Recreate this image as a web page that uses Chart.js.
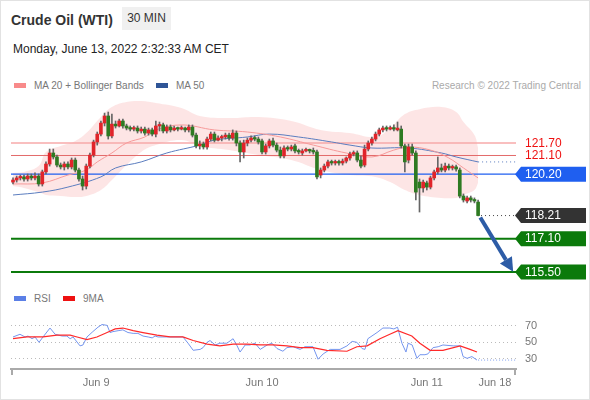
<!DOCTYPE html>
<html>
<head>
<meta charset="utf-8">
<script src="https://cdn.jsdelivr.net/npm/chart.js@4/dist/chart.umd.min.js"></script>
<style>
  html, body { margin: 0; padding: 0; }
  body { width: 590px; height: 400px; position: relative; overflow: hidden; background: #fff;
         font-family: "Liberation Sans", Arial, sans-serif; }
  #frame { position: absolute; left: 0; top: 0; width: 588px; height: 398px; border: 1px solid #e2e2e2; }
  .title { position: absolute; left: 11px; top: 13px; font-size: 14px; line-height: 14px; font-weight: bold; color: #333; }
  .tf { position: absolute; left: 122px; top: 7px; width: 49px; height: 23px; background: #f0f0f0;
        font-size: 12px; line-height: 23px; text-align: center; color: #333; }
  .date { position: absolute; left: 13px; top: 43px; font-size: 12px; line-height: 12px; color: #222; }
  .legend { position: absolute; font-size: 10px; line-height: 10px; color: #777; white-space: nowrap; }
  .sw { display: inline-block; width: 12px; height: 5px; margin-right: 8px; vertical-align: 1px; }
  .credit { position: absolute; right: 9px; top: 81px; font-size: 10px; line-height: 10px; color: #aaa; }
  canvas { position: absolute; left: 0; }
</style>
</head>
<body>
<div id="frame"></div>
<div class="title">Crude Oil (WTI)</div>
<div class="tf">30 MIN</div>
<div class="date">Monday, June 13, 2022 2:32:33 AM CET</div>
<div class="legend" style="left:14px; top:81px;"><span class="sw" style="background:#f88a8a"></span>MA 20 + Bollinger Bands</div>
<div class="legend" style="left:156px; top:81px;"><span class="sw" style="background:#2f5597"></span>MA 50</div>
<div class="credit">Research © 2022 Trading Central</div>
<div class="legend" style="left:14px; top:294px;"><span class="sw" style="background:#5b7fe6"></span>RSI</div>
<div class="legend" style="left:63px; top:294px;"><span class="sw" style="background:#ee1111"></span>9MA</div>
<canvas id="priceChart" width="590" height="190" style="top:95px"></canvas>
<canvas id="rsiChart" width="590" height="100" style="top:300px"></canvas>
<script>
/* ------------------------------------------------------------
   Data (30 min candles, index 0 .. 127)
   ------------------------------------------------------------ */
const opens = [
  119.82, 119.92, 120.02, 120.07, 119.97, 120.11, 120.02, 120.11, 119.73, 120.31,
  120.69, 121.22, 121.03, 120.64, 120.55, 120.69, 120.55, 120.88, 120.40, 119.97,
  119.63, 120.59, 121.12, 121.75, 122.13, 122.66, 123.00, 122.04, 122.61, 122.52,
  122.76, 122.52, 122.42, 122.37, 122.42, 122.28, 122.37, 122.18, 122.33, 122.13,
  122.52, 122.57, 122.28, 122.47, 122.33, 122.42, 122.37, 122.42, 122.33, 122.47,
  122.08, 121.56, 121.65, 121.51, 121.89, 122.13, 121.84, 121.94, 121.99, 122.08,
  121.94, 122.18, 121.70, 121.27, 121.70, 121.84, 121.94, 121.89, 121.80, 121.27,
  121.56, 121.80, 121.60, 121.36, 121.08, 121.46, 121.41, 121.56, 121.32, 121.22,
  121.32, 121.36, 121.32, 121.27, 120.16, 120.40, 120.59, 120.79, 120.74, 120.79,
  120.74, 120.83, 120.98, 121.17, 121.22, 120.88, 120.64, 121.41, 121.70, 121.89,
  122.13, 122.33, 122.42, 122.37, 122.42, 122.33, 122.37, 121.56, 120.88, 121.51,
  121.22, 119.82, 119.54, 119.78, 119.58, 120.02, 120.31, 120.50, 120.40, 120.59,
  120.50, 120.55, 120.40, 119.15, 118.91, 119.06, 118.96, 118.86
];
const highs = [
  120.02, 120.11, 120.16, 120.16, 120.21, 120.21, 120.26, 120.21, 120.40, 120.79,
  121.41, 121.41, 121.12, 120.74, 120.79, 120.79, 120.98, 120.98, 120.50, 120.11,
  120.69, 121.22, 121.84, 122.23, 122.76, 123.14, 123.19, 123.09, 122.76, 122.85,
  122.85, 122.61, 122.52, 122.52, 122.52, 122.47, 122.47, 122.42, 122.42, 122.76,
  122.71, 122.66, 122.57, 122.57, 122.52, 122.47, 122.52, 122.47, 122.57, 122.57,
  122.18, 121.80, 121.75, 121.99, 122.23, 122.23, 122.04, 122.08, 122.18, 122.18,
  122.33, 122.28, 121.80, 121.84, 121.94, 122.04, 122.04, 121.99, 121.89, 121.65,
  121.89, 121.94, 121.70, 121.51, 121.56, 121.56, 121.60, 121.65, 121.41, 121.41,
  121.46, 121.41, 121.46, 121.36, 120.50, 120.69, 120.88, 120.88, 120.88, 120.88,
  120.93, 121.03, 121.27, 121.32, 121.32, 121.08, 121.60, 121.80, 121.99, 122.23,
  122.42, 122.52, 122.52, 122.52, 122.57, 122.71, 122.52, 121.65, 121.65, 121.65,
  121.32, 119.97, 119.92, 119.87, 120.11, 120.40, 121.03, 120.69, 120.74, 120.69,
  120.64, 120.64, 120.50, 119.25, 119.15, 119.15, 119.06, 118.96
];
const lows = [
  119.73, 119.82, 119.92, 119.87, 119.87, 119.92, 119.92, 119.63, 119.63, 120.21,
  120.59, 120.93, 120.55, 120.45, 120.40, 120.45, 120.45, 120.31, 119.87, 119.44,
  119.49, 120.50, 121.03, 121.60, 122.04, 122.52, 121.89, 121.94, 122.42, 122.47,
  122.42, 122.33, 122.28, 122.28, 122.18, 122.18, 122.08, 122.08, 122.04, 121.99,
  122.28, 122.18, 122.18, 122.23, 122.28, 122.28, 122.33, 122.23, 122.23, 121.99,
  121.46, 121.41, 121.41, 121.41, 121.80, 121.75, 121.80, 121.80, 121.89, 121.84,
  121.84, 121.56, 120.79, 120.98, 121.56, 121.75, 121.80, 121.65, 121.17, 121.17,
  121.46, 121.51, 121.27, 120.98, 120.98, 121.32, 121.32, 121.22, 121.17, 121.12,
  121.27, 121.22, 121.17, 119.97, 120.02, 120.31, 120.50, 120.64, 120.64, 120.64,
  120.64, 120.74, 120.88, 121.08, 120.79, 120.50, 120.55, 121.32, 121.60, 121.80,
  122.04, 122.23, 122.28, 122.33, 122.28, 122.28, 121.46, 120.31, 120.74, 121.12,
  118.96, 118.38, 119.34, 119.44, 119.49, 119.92, 120.21, 120.31, 120.31, 120.40,
  120.40, 120.35, 119.06, 118.86, 118.82, 118.86, 118.82, 118.19
];
const closes = [
  119.92, 120.02, 120.07, 119.97, 120.11, 120.02, 120.11, 119.73, 120.31, 120.69,
  121.22, 121.03, 120.64, 120.55, 120.69, 120.55, 120.88, 120.40, 119.97, 119.63,
  120.59, 121.12, 121.75, 122.13, 122.66, 123.00, 122.04, 122.61, 122.52, 122.76,
  122.52, 122.42, 122.37, 122.42, 122.28, 122.37, 122.18, 122.33, 122.13, 122.52,
  122.57, 122.28, 122.47, 122.33, 122.42, 122.37, 122.42, 122.33, 122.47, 122.08,
  121.56, 121.65, 121.51, 121.89, 122.13, 121.84, 121.94, 121.99, 122.08, 121.94,
  122.18, 121.70, 121.27, 121.70, 121.84, 121.94, 121.89, 121.75, 121.27, 121.56,
  121.80, 121.60, 121.36, 121.08, 121.46, 121.41, 121.51, 121.32, 121.27, 121.32,
  121.36, 121.32, 121.27, 120.07, 120.40, 120.59, 120.79, 120.74, 120.79, 120.74,
  120.83, 120.98, 121.17, 121.22, 120.88, 120.59, 121.41, 121.70, 121.89, 122.13,
  122.33, 122.42, 122.37, 122.42, 122.37, 122.42, 121.56, 120.79, 121.51, 121.22,
  119.34, 119.54, 119.82, 119.58, 120.02, 120.31, 120.50, 120.40, 120.59, 120.50,
  120.55, 120.45, 119.15, 118.96, 119.06, 118.96, 118.91, 118.21
];

// Bollinger bands (MA 20) read at sample candles
const bandIdx   = [0, 3, 7, 9, 13, 17, 20, 24, 27, 31, 35, 39, 46, 51, 59, 67, 76, 84, 92, 99, 103, 107, 111, 117, 121, 123, 126, 127];
const bandUpper = [120.26, 120.31, 120.59, 121.27, 121.56, 121.80, 122.18, 122.95, 123.43, 123.67, 123.72, 123.62, 123.38, 123.00,
                   122.90, 122.95, 122.76, 122.33, 122.18, 121.99, 122.42, 123.09, 123.33, 123.43, 123.19, 122.71, 122.08, 121.46];
const bandLower = [119.63, 119.54, 119.34, 119.20, 119.15, 119.10, 119.15, 119.44, 119.92, 120.64, 121.27, 121.60, 121.84, 121.56,
                   121.36, 121.12, 120.88, 120.40, 120.16, 120.07, 119.82, 119.44, 119.20, 119.06, 119.06, 119.20, 119.44, 119.78];

const ma20Idx = [0, 8, 15, 20, 23, 27, 31, 36, 39, 46, 55, 64, 73, 82, 91, 98, 104, 108, 114, 119, 123, 127];
const ma20Val = [119.73, 119.78, 120.16, 120.40, 120.79, 121.22, 121.70, 121.99, 122.33, 122.57, 122.33,
                 122.23, 121.99, 121.60, 121.22, 121.03, 121.36, 121.51, 121.36, 120.98, 120.50, 120.02];

const ma50Idx = [0, 8, 15, 24, 28, 35, 42, 51, 55, 64, 70, 78, 87, 92, 98, 108, 117, 121, 127];
const ma50Val = [119.20, 119.34, 119.58, 120.07, 120.50, 120.79, 121.22, 121.60, 121.84, 121.99,
                 122.13, 121.99, 121.75, 121.60, 121.46, 121.46, 121.22, 121.03, 120.79];

// Key levels
const resistanceLevels = [121.70, 121.10];
const pivotLevel = 120.20;
const supportLevels = [117.10, 115.50];
const lastPrice = 118.21;

// Projection arrow (candle index, price)
const arrowIdx = [127.6, 134.6];
const arrowVal = [118.12, 116.08];

// RSI panel
const rsiIdx = [0, 1.9, 3.3, 4.1, 5.2, 6, 7.1, 8.2, 10.1, 11.5, 13.4, 14.7, 15.6, 16.4, 18.3, 19.1, 20.2, 21.8, 23.2, 24.3,
  25.7, 26.5, 27.3, 28.7, 30, 31.4, 32.8, 34.1, 35.5, 36.9, 38, 38.8, 39.6, 40.7, 42.9, 46.4, 47.8, 49.2, 51.1, 51.9,
  53, 53.8, 55.2, 56.5, 58.4, 60.1, 61.2, 62, 63.4, 64.7, 66.1, 67.5, 69.4, 70.7, 72.1, 73.7, 74.8, 76.5, 78.4, 79.7,
  81.9, 83.3, 84.7, 86.6, 89.3, 91.2, 92.6, 93.9, 95.3, 96.1, 96.9, 99.4, 101, 102.9, 104, 105, 106.2, 107.3, 107.9, 109,
  110.3, 111.1, 112.5, 113.3, 114.7, 116.1, 117.4, 120.2, 122.1, 122.9, 124, 125.3, 126.7];
const rsiVal = [56.4, 59.6, 56.4, 57.5, 54.3, 56.4, 50.0, 56.4, 67.1, 59.6, 57.5, 57.5, 54.3, 56.4, 45.7, 46.8, 56.4, 62.8, 68.1, 71.3,
  70.3, 61.7, 62.8, 63.9, 64.9, 61.7, 60.7, 60.7, 57.5, 56.4, 55.3, 57.5, 56.4, 56.4, 56.4, 56.4, 48.9, 40.4, 41.5, 43.6,
  50.0, 52.1, 46.8, 48.9, 48.9, 54.3, 45.7, 38.3, 46.8, 46.8, 48.9, 41.5, 46.8, 48.9, 42.5, 39.3, 43.6, 44.7, 41.5, 44.7,
  44.7, 29.7, 36.1, 41.5, 41.5, 45.7, 51.1, 50.0, 42.5, 41.5, 54.3, 61.7, 67.1, 67.1, 66.0, 68.1, 48.9, 38.3, 48.9, 46.8,
  30.8, 35.1, 35.1, 36.1, 43.6, 44.7, 46.8, 45.7, 45.7, 32.9, 30.8, 32.9, 28.7];

const rsiMaIdx = [0, 3.8, 8.2, 12, 15.6, 17.5, 20.2, 22.9, 25.7, 27.9, 30, 32.8, 35.5, 39.3, 42.9, 46.4, 49.2, 53, 56.5, 60.1,
  63.9, 67.5, 71, 74.8, 78.4, 81.9, 85.7, 91.2, 93.9, 96.7, 100.2, 102.9, 105.1, 108.9, 111.1, 113.9, 117.4, 122.1, 124.8, 126.7];
const rsiMaVal = [54.3, 56.4, 56.4, 58.5, 58.5, 56.4, 53.2, 56.4, 61.7, 66.0, 67.1, 63.9, 61.7, 58.5, 56.4, 56.4, 52.1, 47.9, 45.7, 47.9,
  47.9, 46.8, 46.8, 45.7, 43.6, 43.6, 40.4, 39.3, 44.7, 45.7, 54.3, 59.6, 63.9, 57.5, 48.9, 40.4, 40.4, 45.7, 41.5, 38.3];
const rsiLevels = [30, 50, 70];

// x axis: candle index of each date label
const dayTicks = [22.7, 68, 113, 131.6];
const dayLabels = ["Jun 9", "Jun 10", "Jun 11", "Jun 18"];

/* ------------------------------------------------------------
   Shared settings
   ------------------------------------------------------------ */
const X_MIN = -0.55;
const X_MAX = 137.35;
const UP = "#e0242a";
const DOWN = "#2e7a22";

Chart.defaults.font.family = '"Liberation Sans", Arial, sans-serif';
Chart.defaults.animation = false;

const pts = (xs, ys) => xs.map((x, i) => ({ x: x, y: ys[i] }));
const hline = (v) => [{ x: X_MIN, y: v }, { x: X_MAX, y: v }];
const lastIdx = closes.length - 1;

function lineSet(data, color, width, extra) {
    return Object.assign({
        type: "line", data: data, borderColor: color, borderWidth: width,
        pointRadius: 0, fill: false, tension: 0
    }, extra || {});
}

/* ------------------------------------------------------------
   Price panel overlay: level labels, tags, arrow head
   ------------------------------------------------------------ */
function drawTag(ctx, yPix, text, color) {
    ctx.fillStyle = color;
    ctx.beginPath();
    ctx.moveTo(515, yPix);
    ctx.lineTo(521, yPix - 7.5);
    ctx.lineTo(586, yPix - 7.5);
    ctx.lineTo(586, yPix + 7.5);
    ctx.lineTo(521, yPix + 7.5);
    ctx.closePath();
    ctx.fill();
    ctx.fillStyle = "#fff";
    ctx.fillText(text, 525, yPix + 0.5);
}

const priceOverlay = {
    id: "priceOverlay",
    afterDatasetsDraw(chart) {
        const { ctx, scales: { x, y } } = chart;
        ctx.save();
        ctx.font = '12px "Liberation Sans", Arial, sans-serif';
        ctx.textBaseline = "middle";
        ctx.textAlign = "left";

        resistanceLevels.forEach(v => {
            ctx.fillStyle = "#ee1111";
            ctx.fillText(v.toFixed(2), 525, y.getPixelForValue(v) + 0.5);
        });
        drawTag(ctx, y.getPixelForValue(pivotLevel), pivotLevel.toFixed(2), "#1f5ff0");
        drawTag(ctx, y.getPixelForValue(lastPrice), lastPrice.toFixed(2), "#333333");
        supportLevels.forEach(v => drawTag(ctx, y.getPixelForValue(v), v.toFixed(2), "#0b7a0b"));

        // arrow head at the end of the projection shaft
        const x0 = x.getPixelForValue(arrowIdx[0]), y0 = y.getPixelForValue(arrowVal[0]);
        const x1 = x.getPixelForValue(arrowIdx[1]), y1 = y.getPixelForValue(arrowVal[1]);
        const len = Math.hypot(x1 - x0, y1 - y0);
        const ux = (x1 - x0) / len, uy = (y1 - y0) / len;
        const tipX = x1 + ux * 14, tipY = y1 + uy * 14;
        ctx.fillStyle = "#2d5ca6";
        ctx.beginPath();
        ctx.moveTo(tipX, tipY);
        ctx.lineTo(x1 - uy * 7, y1 + ux * 7);
        ctx.lineTo(x1 + uy * 7, y1 - ux * 7);
        ctx.closePath();
        ctx.fill();
        ctx.restore();
    }
};

new Chart(document.getElementById("priceChart"), {
    type: "bar",
    data: {
        datasets: [
            // candle bodies
            {
                data: closes.map((c, i) => ({ x: i, y: [opens[i], c] })),
                backgroundColor: (c) => closes[c.dataIndex] >= opens[c.dataIndex] ? UP : DOWN,
                barThickness: 3, grouped: false, minBarLength: 1.5, borderWidth: 0, order: 1
            },
            // wicks
            {
                data: closes.map((c, i) => ({ x: i, y: [lows[i], highs[i]] })),
                backgroundColor: "#666",
                barThickness: 1, grouped: false, borderWidth: 0, order: 2
            },
            lineSet(pts(arrowIdx, arrowVal), "#2d5ca6", 4, { order: 0 }),
            lineSet(pts(ma20Idx, ma20Val), "#f69a9a", 1, { tension: 0.4, order: 3 }),
            lineSet(pts(ma50Idx, ma50Val), "#5b7dbf", 1, { tension: 0.4, order: 3 }),
            lineSet([{ x: lastIdx, y: ma50Val[ma50Val.length - 1] }, { x: X_MAX, y: ma50Val[ma50Val.length - 1] }],
                    "#5b7dbf", 1, { borderDash: [1, 3], order: 3 }),
            lineSet([{ x: lastIdx + 0.8, y: lastPrice }, { x: X_MAX, y: lastPrice }],
                    "#444", 1, { borderDash: [1, 3], order: 3 }),
            lineSet(hline(resistanceLevels[0]), "#f7aaaa", 1.5, { order: 4 }),
            lineSet(hline(resistanceLevels[1]), "#e36b6b", 1, { order: 4 }),
            lineSet(hline(pivotLevel), "#1f5ff0", 1.2, { order: 4 }),
            lineSet(hline(supportLevels[0]), "#0b7a0b", 2, { order: 4 }),
            lineSet(hline(supportLevels[1]), "#0b7a0b", 2, { order: 4 }),
            // Bollinger envelope
            lineSet(pts(bandIdx, bandUpper), "rgba(0,0,0,0)", 0,
                    { tension: 0.4, fill: "+1", backgroundColor: "rgba(248,160,160,0.28)", order: 9 }),
            lineSet(pts(bandIdx, bandLower), "rgba(0,0,0,0)", 0, { tension: 0.4, order: 9 })
        ]
    },
    options: {
        responsive: false,
        layout: { padding: { left: 11, right: 74, top: 0, bottom: 0 } },
        scales: {
            x: { type: "linear", display: false, min: X_MIN, max: X_MAX, offset: false },
            y: { display: false, min: 114.87, max: 124.01 }
        },
        plugins: { legend: { display: false }, tooltip: { enabled: false } }
    },
    plugins: [priceOverlay]
});

/* ------------------------------------------------------------
   RSI panel
   ------------------------------------------------------------ */
const axisEnds = {
    id: "axisEnds",
    afterDraw(chart) {
        const { ctx, chartArea: a } = chart;
        ctx.save();
        ctx.strokeStyle = "#aaa";
        ctx.lineWidth = 2;
        ctx.beginPath();
        ctx.moveTo(a.left + 1, a.bottom);
        ctx.lineTo(a.left + 1, a.bottom + 6);
        ctx.moveTo(a.right - 1, a.bottom);
        ctx.lineTo(a.right - 1, a.bottom + 6);
        ctx.stroke();
        ctx.restore();
    }
};

new Chart(document.getElementById("rsiChart"), {
    type: "line",
    data: {
        datasets: [
            lineSet(pts(rsiMaIdx, rsiMaVal), "#ff2a2a", 1.2),
            lineSet(pts(rsiIdx, rsiVal), "#7495ee", 1),
            lineSet([{ x: lastIdx, y: rsiVal[rsiVal.length - 1] }, { x: X_MAX, y: rsiVal[rsiVal.length - 1] }],
                    "#7f9ff0", 1, { borderDash: [1, 2] })
        ]
    },
    options: {
        responsive: false,
        layout: { padding: { left: 11, right: 0, top: 9, bottom: 7 } },
        scales: {
            x: {
                type: "linear", min: X_MIN, max: X_MAX, offset: false,
                grid: { display: false, drawTicks: false },
                border: { display: true, color: "#aaa", width: 2 },
                afterBuildTicks: (s) => { s.ticks = dayTicks.map(v => ({ value: v })); },
                afterFit: (s) => { s.height = 24; },
                ticks: {
                    autoSkip: false, maxRotation: 0, padding: 7, color: "#777", font: { size: 11 },
                    callback: (v, i) => dayLabels[i]
                }
            },
            y: {
                position: "right", min: 18, max: 82,
                grid: { color: "#bbb", drawTicks: false },
                border: { display: false, dash: [1, 3] },
                afterBuildTicks: (s) => { s.ticks = rsiLevels.map(v => ({ value: v })); },
                afterFit: (s) => { s.width = 74; },
                ticks: { padding: 9, color: "#777", font: { size: 11 }, callback: (v) => String(v) }
            }
        },
        plugins: { legend: { display: false }, tooltip: { enabled: false } }
    },
    plugins: [axisEnds]
});
</script>
</body>
</html>
